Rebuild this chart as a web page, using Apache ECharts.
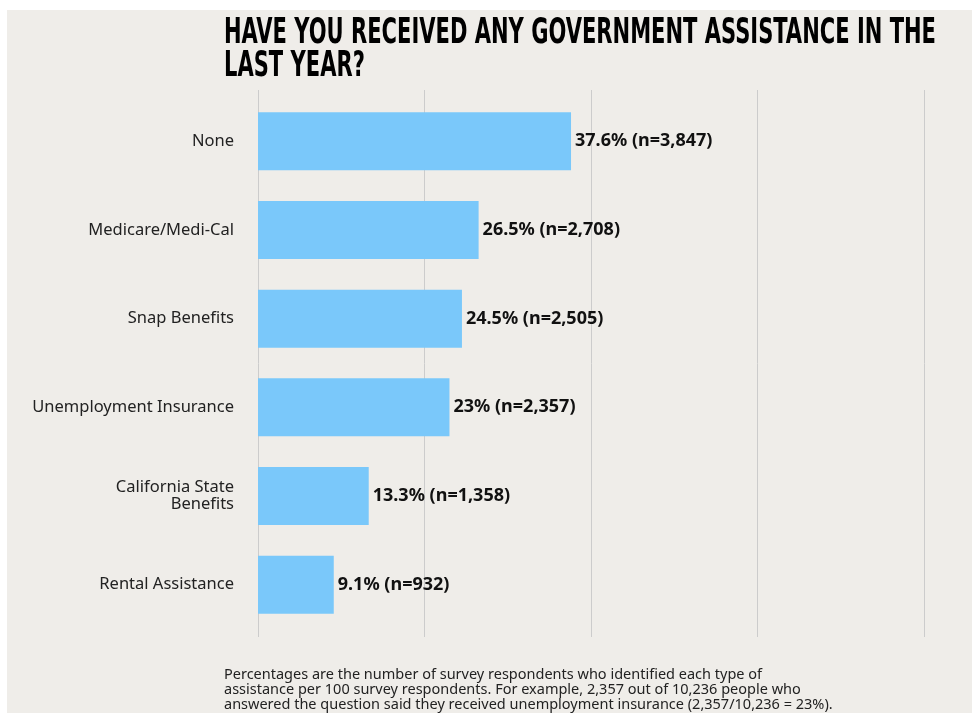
<!DOCTYPE html>
<html><head><meta charset="utf-8">
<script src="https://cdn.jsdelivr.net/npm/echarts@6/dist/echarts.min.js"></script>
<style>
html,body{margin:0;padding:0;background:#fff;width:972px;height:713px;overflow:hidden}
#c{position:absolute;left:7px;top:10px;width:965px;height:703px}
</style></head><body>
<div id="c"></div>
<script>
const categories = ['None','Medicare/Medi-Cal','Snap Benefits','Unemployment Insurance','California State Benefits','Rental Assistance'];
const percentValues = [37.6, 26.5, 24.5, 23, 13.3, 9.1];
const counts = ['3,847','2,708','2,505','2,357','1,358','932'];
const xTicks = [0, 20, 40, 60, 80];
const titleLines = ['HAVE YOU RECEIVED ANY GOVERNMENT ASSISTANCE IN THE','LAST YEAR?'];
const footnote = 'Percentages are the number of survey respondents who identified each type of\nassistance per 100 survey respondents. For example, 2,357 out of 10,236 people who\nanswered the question said they received unemployment insurance (2,357/10,236 = 23%).';

const titleFont = 'bold 36px "DejaVu Sans Condensed","DejaVu Sans",sans-serif';
const cv = document.createElement('canvas').getContext('2d');
cv.font = titleFont;
const w0 = cv.measureText(titleLines[0]).width;
const sx = 712 / w0;

const chart = echarts.init(document.getElementById('c'));
chart.setOption({
  backgroundColor: '#efede9',
  animation: false,
  grid: [
    {left: 251, width: 666, top: 87, height: 532},
    {left: 251, width: 666, top: 80, height: 547}
  ],
  xAxis: [
    {gridIndex: 0, type: 'value', min: 0, max: 80, interval: 20, axisLabel: {show: false}, splitLine: {show: false}, axisLine: {show: false}, axisTick: {show: false}},
    {gridIndex: 1, type: 'value', min: xTicks[0], max: xTicks[xTicks.length-1], interval: 20, axisLabel: {show: false}, axisLine: {show: false}, axisTick: {show: false},
     splitLine: {show: true, lineStyle: {color: '#cccccc', width: 1}}}
  ],
  yAxis: [
    {gridIndex: 0, type: 'category', data: categories, inverse: true,
     axisLine: {show: false}, axisTick: {show: false},
     axisLabel: {margin: 24, color: '#222', fontSize: 16.5, fontFamily: '"Noto Sans", sans-serif', lineHeight: 17,
       formatter: v => v === 'California State Benefits' ? 'California State\nBenefits' : v}},
    {gridIndex: 1, type: 'category', data: [''], show: false}
  ],
  series: [{
    type: 'bar', xAxisIndex: 0, yAxisIndex: 0,
    data: percentValues, barWidth: 58,
    itemStyle: {color: '#7ac8fa'},
    label: {show: true, position: 'right', distance: 4, color: '#111', fontWeight: 'bold', fontSize: 18,
      fontFamily: '"Noto Sans", sans-serif',
      formatter: p => p.value + '% (n=' + counts[p.dataIndex] + ')'}
  }],
  graphic: [
    {type: 'text', left: 217, top: 6, scaleX: sx, originX: 0,
     style: {text: titleLines.join('\n'), font: titleFont, fill: '#000', lineHeight: 33}},
    {type: 'text', left: 217, top: 657,
     style: {text: footnote, fontSize: 14.5, fontFamily: '"Noto Sans", sans-serif', fill: '#222', lineHeight: 15}}
  ]
});
</script></body></html>
